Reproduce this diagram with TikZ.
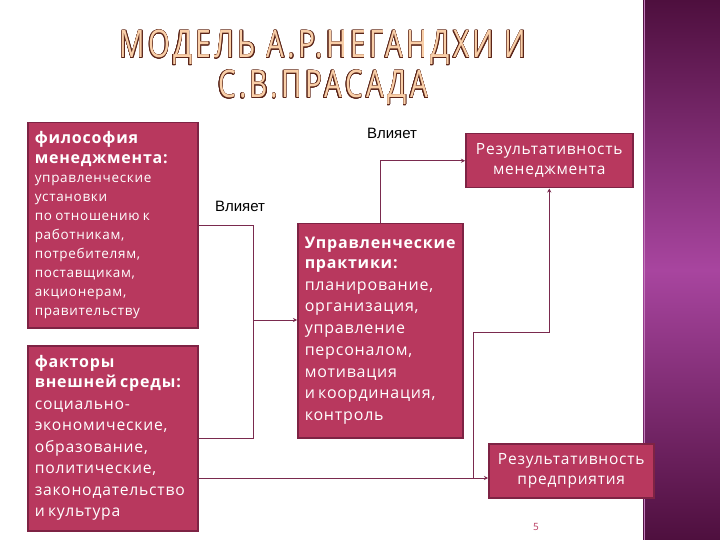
\documentclass[tikz,border=0pt]{standalone}
\usepackage{fontspec}
\setmainfont[LetterSpace=5]{Open Sans}
\newfontfamily\titlefont[LetterSpace=12]{Open Sans}
\newfontfamily\labelfont{Liberation Sans}
\usepackage{contour}
\usetikzlibrary{arrows.meta}
\definecolor{boxfill}{HTML}{B8385E}
\definecolor{boxedge}{HTML}{7E2344}
\definecolor{wirecol}{HTML}{7A2A4E}
\definecolor{bandtop}{HTML}{4E0F3E}
\definecolor{bandmid}{HTML}{A8459F}
\definecolor{titlefill}{HTML}{F9CFA8}
\definecolor{titleedge}{HTML}{5A2418}
\contourlength{0.6pt}
\newcommand\headfont{\fontsize{16}{20}\selectfont\bfseries}
% outlined title letters
\newcommand\titleline[1]{\scalebox{0.74}[1]{\contour{titleedge}{\textcolor{titlefill}{#1}}}}

\begin{document}
\begin{tikzpicture}[x=1pt, y=-1pt,
  block/.style={draw=boxedge, line width=1.5pt, fill=boxfill, text=white, anchor=north west, inner xsep=7pt, inner ysep=4pt, align=left},
  result/.style={block, align=center, inner xsep=1pt, minimum height=54pt, font=\fontsize{15.5}{20}\selectfont},
  wire/.style={draw=wirecol, line width=0.9pt},
  arrow/.style={wire, -{Stealth[length=4pt, width=4pt]}}]
\useasboundingbox (0,0) rectangle (720,540);
\fill[white] (0,0) rectangle (720,540);
% right band
\shade[top color=bandtop, bottom color=bandtop, middle color=bandmid] (643,0) rectangle (720,540);
\draw[bandmid!70!white, line width=1pt] (644,0) -- (644,540);

% title
\node[font=\titlefont\fontsize{38}{40}\selectfont, align=center] (title) at (323,68) {%
\titleline{МОДЕЛЬ А.Р.НЕГАНДХИ И}\\
\titleline{С.В.ПРАСАДА}};

\node[block, text width=156pt, minimum height=205pt] (philosophy) at (27,122) {%
{\headfont философия\\менеджмента:\par}
{\fontsize{13.5}{19}\selectfont управленческие\\установки\\по отношению к\\работникам,\\потребителям,\\поставщикам,\\акционерам,\\правительству\par}};
\node[block, text width=156pt, minimum height=185pt] (environment) at (27,345) {%
{\headfont факторы\\внешней среды:\par}
{\fontsize{15.7}{21.5}\selectfont социально-\\экономические,\\образование,\\политические,\\законодательство\\и культура\par}};
\node[block, text width=151pt, minimum height=214pt] (practices) at (297,223) {%
{\headfont Управленческие\\практики:\par}
{\fontsize{16}{21.7}\selectfont планирование,\\организация,\\управление\\персоналом,\\мотивация\\и координация,\\контроль\\[12pt]\par}};
\node[result, text width=165pt] (mgmtresult) at (465,133) {Результативность\\менеджмента};
\node[result, text width=163pt] (firmresult) at (488,443) {Результативность\\предприятия};

\node[font=\labelfont\fontsize{15}{18}\selectfont] (influence1) at (392,133) {Влияет};
\node[font=\labelfont\fontsize{15}{18}\selectfont] (influence2) at (240,206) {Влияет};
\node[text=boxfill, font=\fontsize{10}{12}\selectfont] (pagenum) at (536,527) {5};

% connectors
\coordinate (hub) at (253,320);
\coordinate (fork) at (473,478);
\coordinate (bend) at (473,332);
\draw[wire] (philosophy.east) -| (hub);
\draw[wire] (environment.east) -| (hub);
\draw[arrow] (hub) -- (hub -| practices.west);
\draw[arrow] (practices.north) |- (mgmtresult.west);
\draw[wire] (environment.east |- fork) -- (fork);
\draw[arrow] (fork) -- (bend) -| (mgmtresult.south);
\draw[arrow] (fork) -- (fork -| firmresult.west);
\end{tikzpicture}
\end{document}
